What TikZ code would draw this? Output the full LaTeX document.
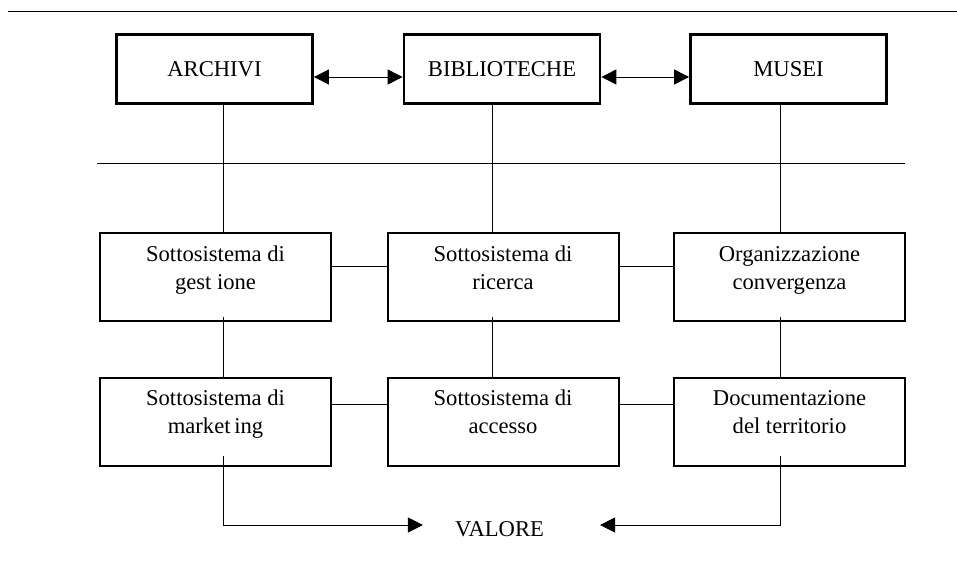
\documentclass[tikz,border=0pt]{standalone}
\usepackage{fontspec}
\setmainfont{Liberation Serif}
\usepackage{tikz}
\usetikzlibrary{arrows.meta}

\begin{document}
\begin{tikzpicture}[x=1pt,y=-1pt,
	font=\fontsize{22.6}{28}\selectfont,
	bigbox/.style={draw,line width=2.8pt,minimum width=196pt,minimum height=69pt,inner sep=0pt},
	subbox/.style={draw,line width=2pt,minimum width=231pt,minimum height=88pt,inner sep=0pt,align=center,text height=44pt,text depth=20pt},
	link/.style={line width=1pt},
	tip/.style={-{Triangle[length=15pt,width=15pt]}},
	tips/.style={{Triangle[length=15pt,width=15pt]}-{Triangle[length=15pt,width=15pt]}}]
	\useasboundingbox (0,0) rectangle (957,566);

	\draw[link] (8,11) -- (957,11);

	\node[bigbox] (arc) at (214.5,69) {ARCHIVI};
	\node[bigbox] (bib) at (502,69) {BIBLIOTECHE};
	\node[bigbox] (mus) at (788.5,69) {MUSEI};

	\node[subbox] (ges) at (215.5,277) {Sottosistema di\\gest ione};
	\node[subbox] (ric) at (503,277) {Sottosistema di\\ricerca};
	\node[subbox] (org) at (789.5,277) {Organizzazione\\convergenza};

	\node[subbox] (mkt) at (215.5,421.5) {Sottosistema di\\market\,ing};
	\node[subbox] (acc) at (503,421.5) {Sottosistema di\\accesso};
	\node[subbox] (doc) at (789.5,421.5) {Documentazione\\del territorio};

	\node[inner sep=0pt] (val) at (499.5,529) {VALORE};

	\draw[link,tips] ([yshift=-8pt]arc.east) -- ([yshift=-8pt]bib.west);
	\draw[link,tips] ([yshift=-8pt]bib.east) -- ([yshift=-8pt]mus.west);

	\draw[link] (97,163) -- (905,163);

	\draw[link] ([xshift=8.5pt,yshift=2pt]arc.south) -- ([xshift=8.5pt]arc.south |- ges.north);
	\draw[link] ([xshift=-10pt,yshift=2pt]bib.south) -- ([xshift=-10pt]bib.south |- ric.north);
	\draw[link] ([xshift=-8.5pt,yshift=2pt]mus.south) -- ([xshift=-8.5pt]mus.south |- org.north);

	\draw[link] ([yshift=11pt]ges.east) -- ([yshift=11pt]ric.west);
	\draw[link] ([yshift=11pt]ric.east) -- ([yshift=11pt]org.west);

	\draw[link] ([xshift=7.5pt,yshift=5pt]ges.south) -- ([xshift=7.5pt]ges.south |- mkt.north);
	\draw[link] ([xshift=-11pt,yshift=5pt]ric.south) -- ([xshift=-11pt]ric.south |- acc.north);
	\draw[link] ([xshift=-9.5pt,yshift=5pt]org.south) -- ([xshift=-9.5pt]org.south |- doc.north);

	\draw[link] ([yshift=17.5pt]mkt.east) -- ([yshift=17.5pt]acc.west);
	\draw[link] ([yshift=17.5pt]acc.east) -- ([yshift=17.5pt]doc.west);

	\draw[link,tip] ([xshift=7.5pt,yshift=11pt]mkt.south) |- ([xshift=-32pt,yshift=4pt]val.west);
	\draw[link,tip] ([xshift=-9.5pt,yshift=11pt]doc.south) |- ([xshift=56pt,yshift=4pt]val.east);
\end{tikzpicture}
\end{document}
